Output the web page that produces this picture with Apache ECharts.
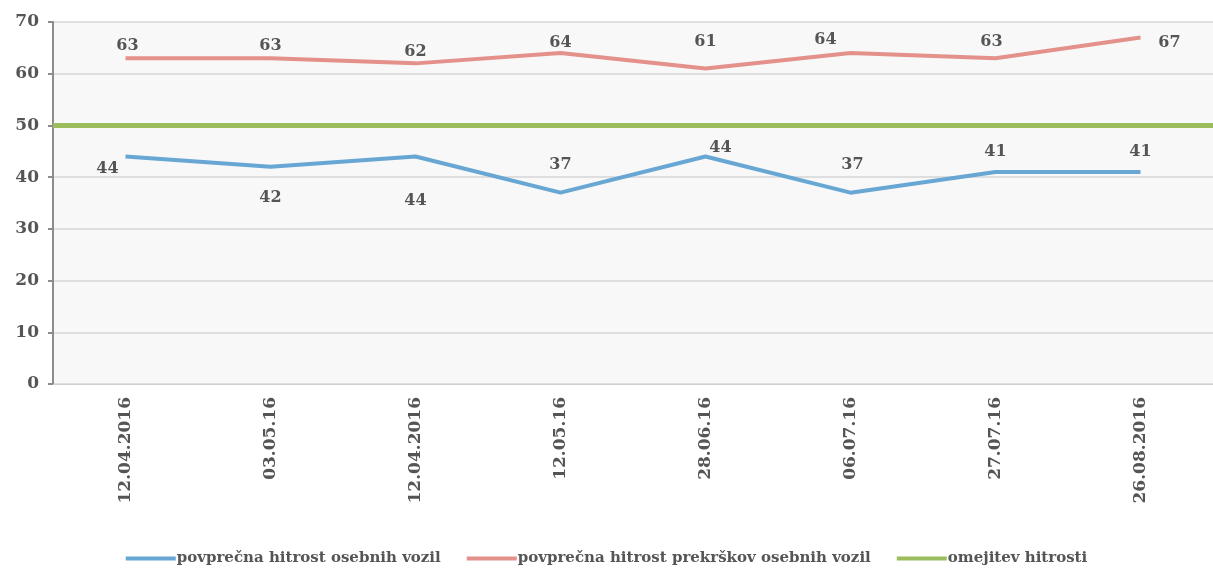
<!DOCTYPE html>
<html><head><meta charset="utf-8">
<script src="https://cdn.jsdelivr.net/npm/echarts@6/dist/echarts.min.js"></script>
<style>html,body{margin:0;padding:0;background:#fff}#c{width:1213px;height:575px}</style>
</head><body><div id="c"></div>
<script>
const categories = ['12.04.2016','03.05.16','12.04.2016','12.05.16','28.06.16','06.07.16','27.07.16','26.08.2016'];
const avgSpeed = [44, 42, 44, 37, 44, 37, 41, 41];
const avgOverSpeed = [63, 63, 62, 64, 61, 64, 63, 67];
const speedLimit = 50;
const yTicks = [0, 10, 20, 30, 40, 50, 60, 70];
const seriesNames = ['povprečna hitrost osebnih vozil', 'povprečna hitrost prekrškov osebnih vozil', 'omejitev hitrosti'];

const blueLabelPos = [[-18,12],[0,31],[0,44],[0,-28],[15,-9],[2,-28],[0,-20],[0,-20]];
const redLabelPos = [[2,-12],[0,-12],[0,-12],[0,-10],[0,-27],[-25,-13],[-4,-16],[29,5]];
const font = {fontFamily:'DejaVu Serif', fontWeight:'bold', color:'#555', fontSize:16};

function build(vals, pos){
  return vals.map((v,i)=>({value:v, label:{show:true, position:'inside', offset:pos[i], ...font}}));
}
const chart = echarts.init(document.getElementById('c'));
chart.setOption({
  animation:false,
  backgroundColor:'#fff',
  grid:{left:53, right:0, top:22, bottom:191, show:true, backgroundColor:'#f8f8f8', borderWidth:0},
  legend:{bottom:4, left:'center', itemWidth:50, itemHeight:4, itemGap:26,
    icon:'rect',
    textStyle:{fontFamily:'DejaVu Serif', fontWeight:'bold', color:'#555', fontSize:15, padding:[0,0,0,-4]},
    data:seriesNames},
  xAxis:{type:'category', data:categories, boundaryGap:true,
    axisLine:{lineStyle:{color:'#d0d0d0'}}, axisTick:{show:false},
    axisLabel:{rotate:90, ...font, fontSize:17, margin:13}},
  yAxis:{type:'value', min:yTicks[0], max:yTicks[yTicks.length-1], interval:10,
    axisLine:{show:true, lineStyle:{color:'#8c8c8c', width:2}},
    axisTick:{show:true, inside:false, length:5, lineStyle:{color:'#8c8c8c', width:2}},
    splitLine:{lineStyle:{color:'#d6d6d6', width:1.5}},
    axisLabel:{...font, fontSize:17, margin:14}},
  series:[
    {name:seriesNames[0], type:'line', data:build(avgSpeed, blueLabelPos),
      symbol:'circle', symbolSize:0.01, showSymbol:true,
      color:'#68a6d4', lineStyle:{width:4, color:'#68a6d4'}, z:3},
    {name:seriesNames[1], type:'line', data:build(avgOverSpeed, redLabelPos),
      symbol:'circle', symbolSize:0.01, showSymbol:true,
      color:'#e3918a', lineStyle:{width:4, color:'#e3918a'}, z:3},
    {name:seriesNames[2], type:'line', data:[], symbol:'none', color:'#9cbd5e',
      lineStyle:{width:4, color:'#9cbd5e'},
      markLine:{symbol:'none', silent:true, label:{show:false},
        lineStyle:{type:'solid', width:5, color:'#9cbd5e'},
        data:[{yAxis:speedLimit}]}}
  ]
});
</script></body></html>
